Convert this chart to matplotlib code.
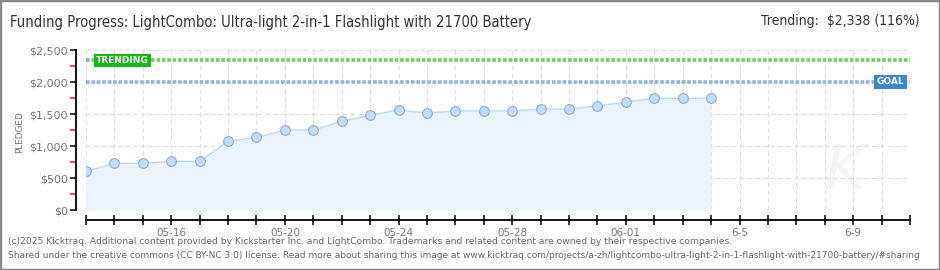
import matplotlib
matplotlib.use("Agg")
import matplotlib.pyplot as plt
import matplotlib.dates as mdates
from matplotlib.ticker import MultipleLocator, FuncFormatter
import numpy as np
import pandas as pd

# ---- data ----
dates = ["2025-05-13", "2025-05-14", "2025-05-15", "2025-05-16", "2025-05-17",
         "2025-05-18", "2025-05-19", "2025-05-20", "2025-05-21", "2025-05-22",
         "2025-05-23", "2025-05-24", "2025-05-25", "2025-05-26", "2025-05-27",
         "2025-05-28", "2025-05-29", "2025-05-30", "2025-05-31", "2025-06-01",
         "2025-06-02", "2025-06-03", "2025-06-04"]
pledged = [604, 729, 729, 760, 760, 1073, 1135, 1245, 1250, 1385, 1479, 1562,
           1516, 1547, 1547, 1547, 1578, 1578, 1625, 1688, 1745, 1745, 1745]
goal = 2000
trending = 2338
x_start, x_end = "2025-05-13", "2025-06-11"
label_dates = ["2025-05-16", "2025-05-20", "2025-05-24", "2025-05-28",
               "2025-06-01", "2025-06-05", "2025-06-09"]
label_texts = ["05-16", "05-20", "05-24", "05-28", "06-01", "6-5", "6-9"]

title = "Funding Progress: LightCombo: Ultra-light 2-in-1 Flashlight with 21700 Battery"
trend_text = "Trending:  $2,338 (116%)"
footer1 = ("(c)2025 Kicktraq. Additional content provided by Kickstarter Inc. and LightCombo. "
           "Trademarks and related content are owned by their respective companies.")
footer2 = ("Shared under the creative commons (CC BY-NC 3.0) license. Read more about sharing this image at "
           "www.kicktraq.com/projects/a-zh/lightcombo-ultra-light-2-in-1-flashlight-with-21700-battery/#sharing")

# ---- figure ----
W, H = 940, 270
fig = plt.figure(figsize=(W / 100, H / 100), dpi=100, facecolor="white")
fig.patches.append(plt.Rectangle((0, 0), 1, 1, transform=fig.transFigure,
                                 fill=False, edgecolor="#8a8a8a", linewidth=2.5))
ax = fig.add_axes([86 / W, (H - 210) / H, (910 - 86) / W, 160 / H])

title_font = ["DejaVu Sans"]
small_font = ["DejaVu Sans"]

x = mdates.date2num(pd.to_datetime(dates))
x0 = mdates.date2num(pd.Timestamp(x_start))
x1 = mdates.date2num(pd.Timestamp(x_end))

ax.fill_between(x, 0, pledged, color="#ebf3fc", zorder=1, linewidth=0)
ax.plot(x, pledged, color="#bcd8f4", linewidth=1.0, zorder=3)
ax.plot(x, pledged, linestyle="none", marker="o", markersize=7.0,
        markerfacecolor="#c3dcf6", markeredgecolor="#93acd0", markeredgewidth=0.8, zorder=4)

ax.axhline(trending, color="#73cc62", linewidth=2.6, linestyle=(0, (1.0, 0.5)), zorder=2)
ax.axhline(goal, color="#90b2dc", linewidth=2.6, linestyle=(0, (1.0, 0.5)), zorder=2)

ax.set_xlim(x0, x1)
ax.set_ylim(0, 2500)

# grid
ax.xaxis.set_major_locator(mdates.DayLocator())
ax.yaxis.set_major_locator(MultipleLocator(500))
ax.yaxis.set_minor_locator(MultipleLocator(250))
ax.grid(True, which="major", color="#dedede", linestyle=(0, (4, 3)), linewidth=0.8, zorder=0)
ax.set_axisbelow(True)

# x tick labels only every 4 days
lab_nums = mdates.date2num(pd.to_datetime(label_dates))
lab_map = {round(v): t for v, t in zip(lab_nums, label_texts)}
ax.xaxis.set_major_formatter(FuncFormatter(lambda v, p: lab_map.get(round(v), "")))
ax.yaxis.set_major_formatter(FuncFormatter(lambda v, p: "${:,.0f}".format(v)))

for s in ["top", "right"]:
    ax.spines[s].set_visible(False)
ax.spines["left"].set_position(("outward", 7.2))
ax.spines["bottom"].set_position(("outward", 7.2))
ax.spines["left"].set_bounds(0, 2500)
ax.spines["left"].set_linewidth(1.3)
ax.spines["bottom"].set_linewidth(1.3)

ax.tick_params(axis="x", which="major", direction="inout", length=7, width=1.1,
               colors="black", labelcolor="#777777", labelsize=7.5, pad=2)
ax.tick_params(axis="y", which="major", direction="out", length=4, width=1.1,
               colors="black", labelcolor="#777777", labelsize=8, pad=2)
ax.tick_params(axis="y", which="minor", direction="out", length=4, width=1.1, colors="#e02020")
for lab in ax.get_xticklabels() + ax.get_yticklabels():
    lab.set_family(small_font)

fig.text(20 / W, (H - 132) / H, "PLEDGED", rotation=90, ha="center", va="center",
         fontsize=6.4, color="#777777", family=small_font)

# labels on lines
ax.text(x0 + 0.35, trending, "TRENDING", fontsize=6.5, color="white", fontweight="bold",
        va="center", ha="left", family=small_font, zorder=6,
        bbox=dict(boxstyle="square,pad=0.25", facecolor="#18b818", edgecolor="none"))
ax.text(x1 - 0.2, goal, "GOAL", fontsize=6.5, color="white", fontweight="bold",
        va="center", ha="right", family=small_font, zorder=6,
        bbox=dict(boxstyle="square,pad=0.25", facecolor="#3b86d4", edgecolor="none"))

# watermark
ax.text(x1 - 2.3, 600, "K", fontsize=44, color="#f4f4f4", ha="center", va="center",
        fontstyle="italic", family=small_font, zorder=0)

# titles
fig.text(10 / W, (H - 23) / H, title, fontsize=10.6, color="#333333", va="center", ha="left",
         family=title_font, fontstretch="condensed")
fig.text(920 / W, (H - 21) / H, trend_text, fontsize=10.0, color="#333333", va="center",
         ha="right", family=title_font, fontstretch="condensed")

# footer
fig.text(8 / W, (H - 242) / H, footer1, fontsize=6.6, color="#666666", va="center", ha="left",
         family=title_font)
fig.text(8 / W, (H - 256) / H, footer2, fontsize=6.5, color="#666666", va="center", ha="left",
         family=title_font)

fig.savefig("out.png", dpi=100, facecolor="white")
